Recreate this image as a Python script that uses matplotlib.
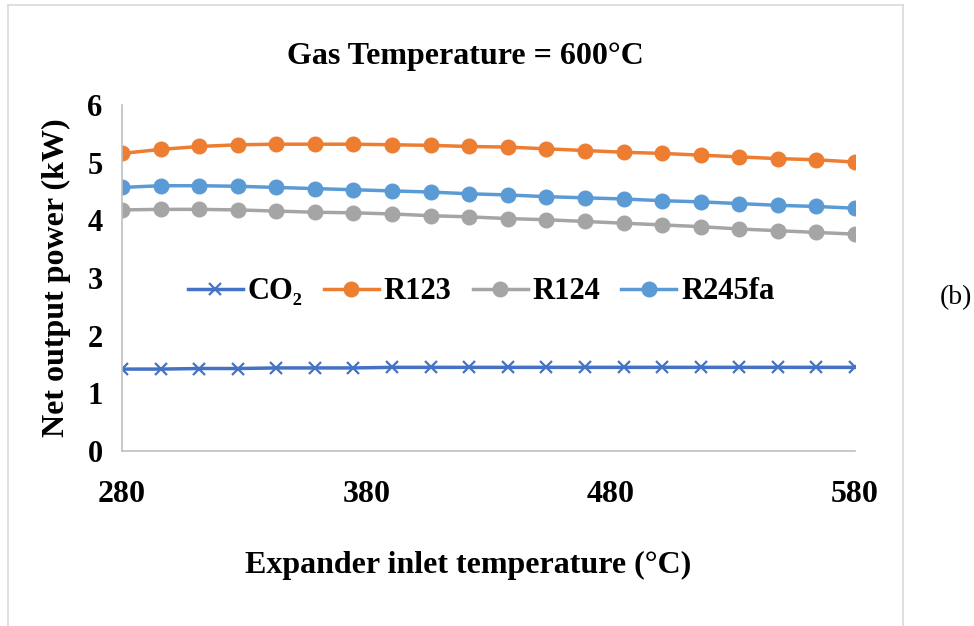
import matplotlib
matplotlib.use("Agg")
import matplotlib.pyplot as plt
from matplotlib.lines import Line2D

plt.rcParams['font.family'] = ['Liberation Serif', 'DejaVu Serif']

# temperatura ingresso espansore (°C)
temp_ingresso = [280, 295.8, 311.6, 327.4, 343.2, 358.9, 374.7, 390.5, 406.3, 422.1,
                 437.9, 453.7, 469.5, 485.3, 501.1, 516.8, 532.6, 548.4, 564.2, 580]

# potenza netta (kW) per ogni fluido
pot_co2 = [1.42, 1.42, 1.43, 1.43, 1.44, 1.44, 1.44, 1.45, 1.45, 1.45,
           1.45, 1.45, 1.45, 1.45, 1.45, 1.45, 1.45, 1.45, 1.45, 1.45]
pot_r123 = [5.16, 5.23, 5.28, 5.31, 5.32, 5.32, 5.32, 5.31, 5.30, 5.28,
            5.27, 5.24, 5.21, 5.18, 5.16, 5.13, 5.10, 5.07, 5.05, 5.01]
pot_r124 = [4.18, 4.19, 4.19, 4.18, 4.16, 4.14, 4.13, 4.11, 4.08, 4.06,
            4.03, 4.01, 3.98, 3.95, 3.92, 3.89, 3.85, 3.82, 3.79, 3.76]
pot_r245fa = [4.57, 4.60, 4.60, 4.59, 4.57, 4.55, 4.53, 4.51, 4.49, 4.46,
              4.44, 4.41, 4.39, 4.37, 4.34, 4.32, 4.29, 4.26, 4.24, 4.21]

etichette = ['CO\u2082', 'R123', 'R124', 'R245fa']
colori = ['#4472C4', '#ED7D31', '#A5A5A5', '#5B9BD5']

fig = plt.figure(figsize=(9.74, 6.26), dpi=100)
ax = fig.add_axes([0.1253, 0.2796, 0.7525, 0.5527])

# serie
ax.plot(temp_ingresso, pot_co2, color=colori[0], lw=2.5, marker='x', ms=9, mew=1.6, label=etichette[0])
ax.plot(temp_ingresso, pot_r123, color=colori[1], lw=2.5, marker='o', ms=10.5, label=etichette[1])
ax.plot(temp_ingresso, pot_r124, color=colori[2], lw=2.5, marker='o', ms=10.5, label=etichette[2])
ax.plot(temp_ingresso, pot_r245fa, color=colori[3], lw=2.5, marker='o', ms=10.5, label=etichette[3])

ax.set_xlim(280, 580)
ax.set_ylim(0, 6)
ax.set_xticks([280, 380, 480, 580])
ax.set_yticks([0, 1, 2, 3, 4, 5, 6])

for s in ['top', 'right']:
    ax.spines[s].set_visible(False)
for s in ['left', 'bottom']:
    ax.spines[s].set_color('#BFBFBF')
    ax.spines[s].set_linewidth(1.2)

ax.tick_params(axis='both', length=0)
ax.tick_params(axis='x', pad=21, labelsize=23)
ax.tick_params(axis='y', pad=14, labelsize=22)
for lab in ax.get_xticklabels() + ax.get_yticklabels():
    lab.set_fontweight('bold')

ax.set_xlabel('Expander inlet temperature (\u00b0C)', fontsize=23, fontweight='bold', labelpad=30)
ax.xaxis.label.set_x(0.472)
ax.set_ylabel('Net output power (kW)', fontsize=23, fontweight='bold', labelpad=12)
fig.text(0.478, 0.910, 'Gas Temperature = 600\u00b0C', fontsize=23, fontweight='bold',
         ha='center', va='center')

ax.legend(loc='center', bbox_to_anchor=(0.49, 0.46), ncol=4, frameon=False,
          prop={'size': 22, 'weight': 'bold'}, handlelength=1.8, handletextpad=0.15,
          columnspacing=0.7)

fig.text(0.998, 0.525, '(b)', fontsize=20, ha='right', va='center')

# bordo grigio del riquadro
bordo = '#D9D9D9'
fig.add_artist(Line2D([0.008, 0.008], [0.0, 0.992], color=bordo, lw=1.2, transform=fig.transFigure))
fig.add_artist(Line2D([0.927, 0.927], [0.0, 0.992], color=bordo, lw=1.2, transform=fig.transFigure))
fig.add_artist(Line2D([0.008, 0.927], [0.992, 0.992], color=bordo, lw=1.2, transform=fig.transFigure))

fig.savefig('out.png', dpi=100)
